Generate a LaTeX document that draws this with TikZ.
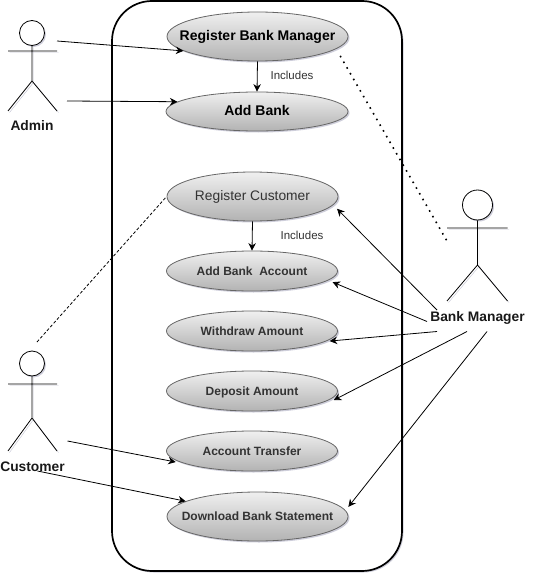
\documentclass[tikz,border=0pt]{standalone}
\usepackage{fontspec}
\setmainfont{Liberation Sans}
\usetikzlibrary{arrows.meta,shadows,shapes.geometric}
\definecolor{casedraw}{RGB}{102,102,102}
\definecolor{casetext}{RGB}{51,51,51}
\definecolor{caseshadow}{RGB}{60,60,110}
\tikzset{
  gsystem/.style={rectangle, draw=black, fill=white, line width=1.7pt, rounded corners=40pt,
                  minimum width=290pt, minimum height=570pt, inner sep=0pt,
                  drop shadow={shadow xshift=1.5pt, shadow yshift=-1.5pt, fill=caseshadow, opacity=0.25}},
  gcase/.style={ellipse, draw=casedraw, line width=0.8pt, top color=white!94!black, bottom color=black!30,
                inner xsep=-40pt, inner ysep=0pt, text=casetext, font=\fontsize{12}{14}\selectfont\bfseries,
                text height=10pt, text depth=2pt,
                minimum width=171pt, minimum height=40pt,
                drop shadow={shadow xshift=1.5pt, shadow yshift=-1.5pt, fill=caseshadow, opacity=0.25}},
  gbig/.style={gcase, minimum width=181pt, minimum height=49pt},
  gwide/.style={gbig, text=black, font=\fontsize{14}{16}\selectfont\bfseries},
  ghead/.style={circle, draw=black, fill=white, line width=0.8pt, inner sep=0pt,
                drop shadow={shadow xshift=1.5pt, shadow yshift=-1.5pt, fill=caseshadow, opacity=0.25}},
  gstick/.style={line width=0.8pt, black, line join=round,
                 preaction={draw=caseshadow!30, transform canvas={shift={(1.5pt,-1.5pt)}}}},
  gname/.style={font=\fontsize{13.8}{16}\selectfont\bfseries, text=black!90, inner sep=0pt,
                text height=10pt, text depth=2pt},
  gnote/.style={font=\fontsize{11.5}{14}\selectfont, text=casetext, inner sep=0pt,
                text height=8pt, text depth=0pt},
  gdir/.style={-{Stealth[length=7.5pt, width=7.5pt]}, line width=0.8pt, black},
}
\begin{document}
\begin{tikzpicture}[x=1pt, y=-1pt]
  \useasboundingbox (0,0) rectangle (537,583);
  \node[gsystem] (system) at (257,286) {};
  % use cases
  \node[gwide] (regmanager) at (257.5,36.5) {Register Bank Manager};
  \node[gwide, minimum width=182pt, minimum height=39pt] (addbank) at (257,111.5) {Add Bank};
  \node[gcase, minimum height=49pt, font=\fontsize{13.8}{15}\selectfont] (regcustomer) at (252.5,196.5) {Register Customer};
  \node[gcase] (addaccount) at (252,271) {Add Bank\ \ Account};
  \node[gcase] (withdraw) at (252,331) {Withdraw Amount};
  \node[gcase] (deposit) at (252,391) {Deposit Amount};
  \node[gcase] (transfer) at (252,451) {Account Transfer};
  \node[gbig] (statement) at (257.5,516.5) {Download Bank Statement};
  % actors
  \node[ghead, minimum size=25pt] (adminhead) at (32,33) {};
  \draw[gstick] (adminhead.south) -- (32,81) (8,51) -- (57,51) (8,111) -- (32,81) -- (57,111);
  \node[gname] (admin) at (32,127) {Admin};
  \node[ghead, minimum size=25pt] (customerhead) at (32,363.5) {};
  \draw[gstick] (customerhead.south) -- (32,418) (8,384) -- (57,384) (8,451) -- (32,418) -- (57,451);
  \node[gname] (customer) at (32.5,467) {Customer};
  \node[ghead, minimum size=30pt] (managerhead) at (477.5,205) {};
  \draw[gstick] (managerhead.south) -- (477.5,265) (447,228) -- (507.5,228) (447,301) -- (477.5,265) -- (507.5,301);
  \node[gname] (manager) at (477.5,317) {Bank Manager};
  % free ends
  \coordinate (admina) at (57,41);
  \coordinate (adminb) at (67,101);
  \coordinate (custa) at (67.5,441);
  \coordinate (custb) at (37.5,471);
  \coordinate (custc) at (37,342);
  \coordinate (mana) at (437,310);
  \coordinate (manb) at (427,321.5);
  \coordinate (manc) at (437,331.5);
  \coordinate (mand) at (467,331.5);
  \coordinate (mane) at (487,331.5);
  \coordinate (mandot) at (447,241);
  % connectors
  \draw[gdir] (admina) -- (regmanager.191);
  \draw[gdir] (adminb) -- (addbank.173);
  \draw[gdir] (regmanager.south) -- (addbank.north);
  \draw[gdir] (regcustomer.south) -- (addaccount.north);
  \draw[gdir, shorten >=10pt] (custa) -- (transfer.191.2);
  \draw[gdir] (custb) -- (statement.168);
  \draw[gdir, shorten >=5.4pt] (mana) -- (regcustomer.-6.2);
  \draw[gdir, shorten >=4.6pt] (manb) -- (addaccount.-7);
  \draw[gdir, shorten >=3.8pt] (manc) -- (withdraw.-8);
  \draw[gdir, shorten >=3.6pt] (mand) -- ([yshift=-2.5pt]deposit.-6);
  \draw[gdir, shorten >=4.5pt] (mane) -- (statement.4.6);
  \draw[line width=0.8pt, densely dashed] (custc) -- (regcustomer.west);
  \draw[line width=1.6pt, dash pattern=on 1.6pt off 5pt, shorten <=8pt] (regmanager.-9) -- (mandot);
  % labels
  \node[gnote] (incbank) at (292,76) {Includes};
  \node[gnote] (inccust) at (302,235.5) {Includes};
\end{tikzpicture}
\end{document}
